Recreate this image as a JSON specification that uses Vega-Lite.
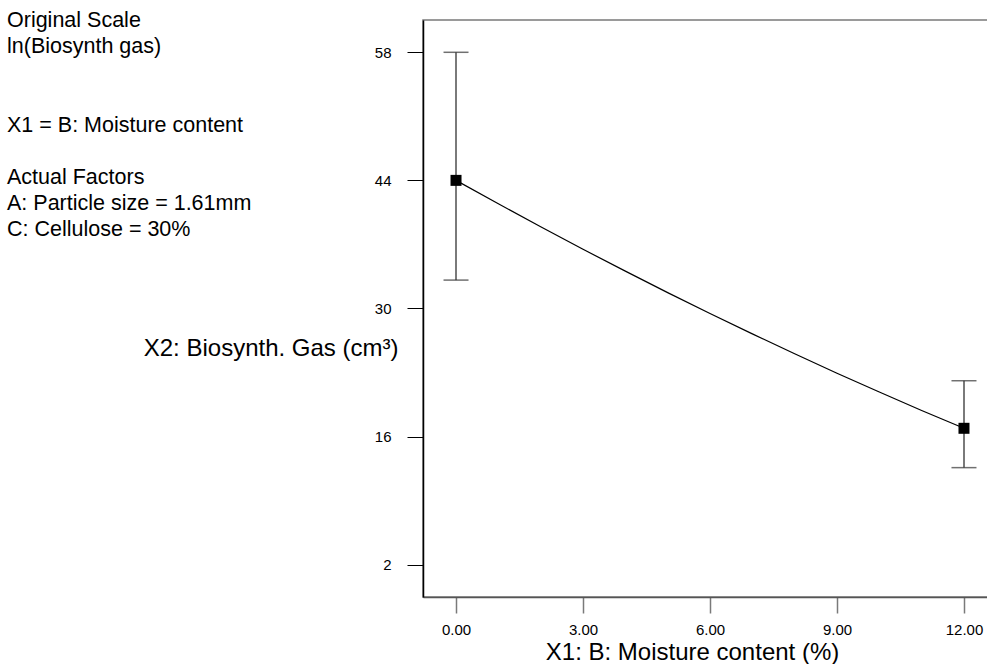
{
  "$schema": "https://vega.github.io/schema/vega-lite/v6.json",
  "width": 574,
  "height": 577,
  "autosize": "none",
  "padding": {"left": 423, "top": 20, "right": 0, "bottom": 67},
  "background": "white",
  "title": {
    "text": ["Original Scale", "ln(Biosynth gas)", "\u200b", "\u200b", "X1 = B: Moisture content", "\u200b", "Actual Factors", "A: Particle size = 1.61mm", "C: Cellulose = 30%"],
    "anchor": "start",
    "frame": "group",
    "orient": "top",
    "baseline": "top",
    "align": "left",
    "font": "Liberation Sans",
    "fontSize": 21.5,
    "fontWeight": "normal",
    "color": "#000000",
    "lineHeight": 26.2,
    "offset": 11,
    "dx": -416,
    "dy": 232
  },
  "config": {
    "view": {"stroke": "#7a7a7a", "strokeWidth": 1.5},
    "axis": {
      "grid": false,
      "labelFont": "Liberation Sans",
      "titleFont": "Liberation Sans",
      "labelColor": "#000000",
      "titleColor": "#000000",
      "titleFontWeight": "normal",
      "labelFontSize": 15,
      "titleFontSize": 24,
      "tickSize": 16
    }
  },
  "datasets": {
    "curve": [
      {"moisture": 0, "gas": 44.0},
      {"moisture": 1, "gas": 41.44},
      {"moisture": 2, "gas": 38.93},
      {"moisture": 3, "gas": 36.47},
      {"moisture": 4, "gas": 34.08},
      {"moisture": 5, "gas": 31.73},
      {"moisture": 6, "gas": 29.45},
      {"moisture": 7, "gas": 27.22},
      {"moisture": 8, "gas": 25.04},
      {"moisture": 9, "gas": 22.92},
      {"moisture": 10, "gas": 20.86},
      {"moisture": 11, "gas": 18.85},
      {"moisture": 12, "gas": 16.9}
    ],
    "design": [
      {"moisture": 0, "gas": 44.0, "low": 33.1, "high": 58.0},
      {"moisture": 12, "gas": 16.9, "low": 12.6, "high": 22.1}
    ]
  },
  "encoding": {
    "x": {
      "field": "moisture",
      "type": "quantitative",
      "scale": {"domain": [-0.78, 12.78], "nice": false, "zero": false},
      "axis": {
        "values": [0, 3, 6, 9, 12],
        "format": ".2f",
        "title": "X1: B: Moisture content (%)",
        "domainColor": "#555555",
        "domainWidth": 1.5,
        "tickColor": "#7a7a7a",
        "tickWidth": 1.5,
        "labelPadding": 9,
        "titleAnchor": "start",
        "titleAlign": "center",
        "titleBaseline": "alphabetic",
        "titleX": 269,
        "titleY": 62
      }
    },
    "y": {
      "field": "gas",
      "type": "quantitative",
      "scale": {"domain": [-1.54, 61.53], "nice": false, "zero": false},
      "axis": {
        "values": [2, 16, 30, 44, 58],
        "title": "X2: Biosynth. Gas (cm³)",
        "domainColor": "#000000",
        "domainWidth": 1.5,
        "tickColor": "#000000",
        "tickWidth": 1,
        "labelPadding": 16,
        "titleAngle": 0,
        "titleAlign": "right",
        "titleBaseline": "alphabetic",
        "titleX": -25,
        "titleY": 335
      }
    }
  },
  "layer": [
    {
      "data": {"name": "curve"},
      "mark": {"type": "line", "color": "#000000", "strokeWidth": 1.2}
    },
    {
      "data": {"name": "design"},
      "mark": {"type": "rule", "color": "#7a7a7a", "strokeWidth": 2},
      "encoding": {
        "y": {"field": "low", "type": "quantitative"},
        "y2": {"field": "high"}
      }
    },
    {
      "data": {"name": "design"},
      "mark": {"type": "tick", "orient": "horizontal", "color": "#333333", "size": 25, "thickness": 1.5},
      "encoding": {
        "y": {"field": "low", "type": "quantitative"}
      }
    },
    {
      "data": {"name": "design"},
      "mark": {"type": "tick", "orient": "horizontal", "color": "#333333", "size": 25, "thickness": 1.5},
      "encoding": {
        "y": {"field": "high", "type": "quantitative"}
      }
    },
    {
      "data": {"name": "design"},
      "mark": {"type": "point", "shape": "square", "filled": true, "color": "#000000", "opacity": 1, "size": 121}
    }
  ]
}
